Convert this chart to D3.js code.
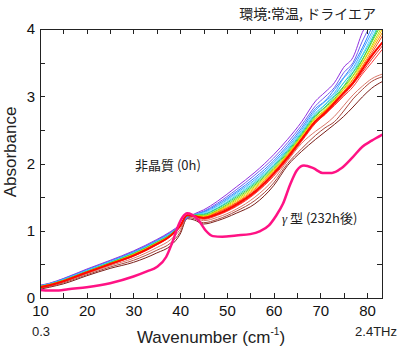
<!DOCTYPE html>
<html lang="ja">
<head>
  <meta charset="UTF-8">
  <title>Absorbance</title>
  <script src="https://cdn.jsdelivr.net/npm/d3@7"></script>
  <style>
    body { margin: 0; background: #fff; }
    svg { display: block; }
    .axis path { display: none; }
    .axis line { stroke: #222; shape-rendering: crispEdges; }
    .axis text {
      font-family: "Liberation Sans", Arial, sans-serif;
      font-size: 15px;
      fill: #111;
    }
    .lbl { font-family: "Liberation Sans", Arial, "Noto Sans CJK JP", sans-serif; fill: #222; }
    .jp { font-family: "Noto Sans CJK JP", "Liberation Sans", sans-serif; fill: #222; }
  </style>
</head>
<body>
<svg width="400" height="350"></svg>
<script>
// 波数 (cm-1)
const wn = [10, 12, 15, 20, 25, 30, 35, 38, 40, 41.5, 43, 45, 48, 52, 56, 60, 63, 66, 69, 71, 73, 75, 77, 79, 81, 83.3];

// 非晶質 → 時間経過 (虹色の順)
const purple    = [0.19, 0.22, 0.29, 0.43, 0.56, 0.70, 0.87, 0.99, 1.09, 1.19, 1.25, 1.31, 1.44, 1.65, 1.87, 2.13, 2.36, 2.62, 2.93, 3.06, 3.20, 3.43, 3.58, 3.95, 4.20, 4.60];
const violet    = [0.185, 0.215, 0.285, 0.42, 0.55, 0.69, 0.86, 0.98, 1.08, 1.19, 1.24, 1.29, 1.41, 1.61, 1.83, 2.08, 2.31, 2.57, 2.86, 2.99, 3.13, 3.35, 3.50, 3.82, 4.10, 4.45];
const blue      = [0.18, 0.21, 0.28, 0.415, 0.545, 0.68, 0.85, 0.97, 1.08, 1.20, 1.24, 1.28, 1.39, 1.58, 1.79, 2.04, 2.27, 2.53, 2.82, 2.93, 3.10, 3.28, 3.47, 3.72, 4.02, 4.35];
const sky       = [0.18, 0.21, 0.275, 0.41, 0.54, 0.675, 0.845, 0.965, 1.08, 1.21, 1.24, 1.27, 1.37, 1.56, 1.76, 2.01, 2.24, 2.50, 2.79, 2.92, 3.05, 3.27, 3.42, 3.68, 3.95, 4.30];
const lightCyan = [0.175, 0.205, 0.27, 0.405, 0.535, 0.67, 0.84, 0.96, 1.08, 1.22, 1.24, 1.26, 1.36, 1.54, 1.74, 1.99, 2.22, 2.48, 2.76, 2.88, 3.04, 3.20, 3.40, 3.62, 3.90, 4.25];
const cyan      = [0.175, 0.205, 0.27, 0.40, 0.53, 0.665, 0.835, 0.955, 1.08, 1.22, 1.24, 1.25, 1.34, 1.52, 1.72, 1.97, 2.20, 2.46, 2.74, 2.87, 3.01, 3.20, 3.36, 3.60, 3.85, 4.20];
const teal      = [0.17, 0.20, 0.265, 0.395, 0.525, 0.66, 0.83, 0.95, 1.08, 1.22, 1.23, 1.24, 1.33, 1.50, 1.70, 1.95, 2.18, 2.44, 2.72, 2.84, 2.99, 3.15, 3.35, 3.55, 3.82, 4.15];
const green     = [0.17, 0.20, 0.26, 0.39, 0.52, 0.655, 0.825, 0.945, 1.08, 1.22, 1.23, 1.23, 1.31, 1.48, 1.68, 1.93, 2.16, 2.42, 2.70, 2.83, 2.96, 3.14, 3.31, 3.54, 3.80, 4.10];
const yellowGrn = [0.17, 0.20, 0.26, 0.39, 0.515, 0.65, 0.82, 0.94, 1.08, 1.23, 1.23, 1.22, 1.30, 1.46, 1.66, 1.91, 2.14, 2.41, 2.68, 2.80, 2.95, 3.11, 3.30, 3.50, 3.75, 4.05];
const yellow    = [0.165, 0.195, 0.255, 0.385, 0.51, 0.645, 0.815, 0.935, 1.08, 1.23, 1.22, 1.21, 1.29, 1.44, 1.64, 1.90, 2.13, 2.40, 2.67, 2.79, 2.93, 3.10, 3.26, 3.49, 3.72, 4.00];
const orange    = [0.165, 0.195, 0.255, 0.385, 0.51, 0.64, 0.81, 0.935, 1.07, 1.23, 1.22, 1.20, 1.28, 1.42, 1.62, 1.88, 2.12, 2.38, 2.65, 2.78, 2.92, 3.07, 3.25, 3.45, 3.68, 3.95];
const redOrange = [0.16, 0.19, 0.25, 0.38, 0.505, 0.635, 0.805, 0.93, 1.07, 1.23, 1.22, 1.20, 1.27, 1.41, 1.60, 1.86, 2.10, 2.37, 2.64, 2.77, 2.90, 3.06, 3.22, 3.43, 3.64, 3.90];
const redA      = [0.155, 0.185, 0.245, 0.375, 0.50, 0.625, 0.795, 0.925, 1.07, 1.23, 1.22, 1.18, 1.24, 1.37, 1.56, 1.83, 2.07, 2.35, 2.61, 2.73, 2.88, 3.02, 3.18, 3.36, 3.55, 3.75];
const redB      = [0.155, 0.185, 0.245, 0.37, 0.495, 0.62, 0.79, 0.92, 1.06, 1.23, 1.21, 1.17, 1.23, 1.36, 1.55, 1.81, 2.06, 2.33, 2.60, 2.73, 2.86, 3.00, 3.14, 3.33, 3.50, 3.70];
const red       = [0.16, 0.19, 0.25, 0.38, 0.505, 0.63, 0.80, 0.93, 1.07, 1.23, 1.22, 1.19, 1.25, 1.39, 1.58, 1.85, 2.09, 2.36, 2.63, 2.75, 2.90, 3.05, 3.20, 3.40, 3.60, 3.80];
const salmon    = [0.15, 0.18, 0.235, 0.36, 0.48, 0.59, 0.75, 0.87, 1.02, 1.21, 1.20, 1.15, 1.20, 1.32, 1.50, 1.76, 2.04, 2.30, 2.48, 2.58, 2.70, 2.86, 3.02, 3.15, 3.26, 3.33];
const brown     = [0.14, 0.17, 0.225, 0.345, 0.46, 0.56, 0.71, 0.82, 0.98, 1.20, 1.18, 1.12, 1.17, 1.29, 1.45, 1.71, 2.00, 2.22, 2.42, 2.53, 2.62, 2.78, 2.96, 3.10, 3.22, 3.29];
const darkBrown = [0.13, 0.16, 0.21, 0.33, 0.44, 0.53, 0.67, 0.78, 0.95, 1.18, 1.16, 1.10, 1.15, 1.26, 1.40, 1.67, 1.97, 2.18, 2.36, 2.47, 2.58, 2.70, 2.84, 2.99, 3.12, 3.22];

// γ型 (232h後)
const gammaWn = [10, 12, 14, 16, 20, 25, 30, 33, 35, 37, 38.5, 39.5, 40.5, 41.5, 42.5, 44, 45.5, 47, 49, 52, 55, 57, 59, 60.5, 62, 63.5, 65, 66.5, 68.5, 70.5, 72.5, 74.5, 77, 79, 81, 83.3];
const gammaAbs = [0.12, 0.11, 0.11, 0.13, 0.16, 0.22, 0.32, 0.40, 0.46, 0.61, 0.86, 1.06, 1.20, 1.26, 1.24, 1.15, 1.00, 0.92, 0.91, 0.93, 0.95, 0.99, 1.08, 1.22, 1.40, 1.68, 1.90, 1.97, 1.93, 1.86, 1.86, 1.93, 2.10, 2.25, 2.34, 2.43];

const xTicks = [10, 15, 20, 25, 30, 35, 40, 45, 50, 55, 60, 65, 70, 75, 80];
const yTicks = [0, 0.5, 1, 1.5, 2, 2.5, 3, 3.5, 4];

const series = [
  { y: darkBrown, color: "#7a1f1a", w: 1 },
  { y: brown,     color: "#a8463c", w: 1 },
  { y: salmon,    color: "#d9786a", w: 1 },
  { y: purple,    color: "#9030e0", w: 1 },
  { y: violet,    color: "#7060f0", w: 1 },
  { y: blue,      color: "#3080ff", w: 1 },
  { y: sky,       color: "#40a8ff", w: 1 },
  { y: lightCyan, color: "#70d8ff", w: 1 },
  { y: cyan,      color: "#20d0d0", w: 1 },
  { y: teal,      color: "#30cc70", w: 1 },
  { y: green,     color: "#60d820", w: 1 },
  { y: yellowGrn, color: "#b8e000", w: 1 },
  { y: yellow,    color: "#ffc800", w: 1 },
  { y: orange,    color: "#ff8c00", w: 1 },
  { y: redOrange, color: "#ff4a10", w: 1 },
  { y: redA,      color: "#f02828", w: 1 },
  { y: redB,      color: "#ff3838", w: 1 },
  { y: red,       color: "#ff0a00", w: 2 }
];

const svg = d3.select("svg");
const pLeft = 40, pRight = 382, pTop = 29, pBottom = 298;

const x = d3.scaleLinear().domain([10, 83.2]).range([pLeft, pRight]);
const y = d3.scaleLinear().domain([0, 4]).range([pBottom, pTop]);

svg.append("clipPath").attr("id", "plotclip")
  .append("rect")
  .attr("x", pLeft).attr("y", pTop)
  .attr("width", pRight - pLeft).attr("height", pBottom - pTop);

const plot = svg.append("g").attr("clip-path", "url(#plotclip)");

const line = d3.line()
  .x(d => x(d[0]))
  .y(d => y(d[1]))
  .curve(d3.curveMonotoneX);

series.forEach(s => {
  plot.append("path")
    .attr("d", line(wn.map((v, i) => [v, s.y[i]])))
    .attr("fill", "none")
    .attr("stroke", s.color)
    .attr("stroke-width", s.w);
});

plot.append("path")
  .attr("d", line(gammaWn.map((v, i) => [v, gammaAbs[i]])))
  .attr("fill", "none")
  .attr("stroke", "#ff1284")
  .attr("stroke-width", 2.5);

// 軸 (目盛りは内向き)
svg.append("g").attr("class", "axis")
  .attr("transform", `translate(0,${pBottom})`)
  .call(d3.axisBottom(x).tickValues(xTicks).tickSize(-5).tickPadding(7)
    .tickFormat(d => d % 10 === 0 ? d : ""));

svg.append("g").attr("class", "axis")
  .attr("transform", `translate(0,${pTop})`)
  .call(d3.axisTop(x).tickValues(xTicks).tickSize(-5).tickFormat(""));

svg.append("g").attr("class", "axis")
  .attr("transform", `translate(${pLeft},0)`)
  .call(d3.axisLeft(y).tickValues(yTicks).tickSize(-5).tickPadding(5)
    .tickFormat(d => Number.isInteger(d) ? d : ""));

svg.append("g").attr("class", "axis")
  .attr("transform", `translate(${pRight},0)`)
  .call(d3.axisRight(y).tickValues(yTicks).tickSize(-5).tickFormat(""));

svg.append("rect")
  .attr("x", pLeft).attr("y", pTop)
  .attr("width", pRight - pLeft).attr("height", pBottom - pTop)
  .attr("fill", "none").attr("stroke", "#222").attr("stroke-width", 1)
  .attr("shape-rendering", "crispEdges");

// 軸ラベル
svg.append("text").attr("class", "lbl")
  .attr("transform", "translate(16,152) rotate(-90)")
  .attr("text-anchor", "middle")
  .attr("font-size", 17)
  .text("Absorbance");

const xl = svg.append("text").attr("class", "lbl")
  .attr("x", (pLeft + pRight) / 2).attr("y", 343)
  .attr("text-anchor", "middle")
  .attr("font-size", 17);
xl.append("tspan").text("Wavenumber (cm");
xl.append("tspan").attr("font-size", 10).attr("dy", -8).text("-1");
xl.append("tspan").attr("dy", 8).text(")");

svg.append("text").attr("class", "lbl")
  .attr("x", 41).attr("y", 336).attr("text-anchor", "middle")
  .attr("font-size", 13).attr("fill", "#333").text("0.3");
svg.append("text").attr("class", "lbl")
  .attr("x", 397).attr("y", 336).attr("text-anchor", "end")
  .attr("font-size", 13).attr("fill", "#333").text("2.4THz");

// 注記
svg.append("text").attr("class", "jp")
  .attr("x", 376).attr("y", 19).attr("text-anchor", "end")
  .attr("font-size", 14).text("環境:常温, ドライエア");

svg.append("text").attr("class", "jp")
  .attr("x", 135).attr("y", 170)
  .attr("font-size", 13).text("非晶質 (0h)");

const g = svg.append("text").attr("class", "jp")
  .attr("x", 282).attr("y", 223)
  .attr("font-size", 13);
g.append("tspan").attr("font-style", "italic").attr("font-family", "Liberation Serif, serif").text("γ");
g.append("tspan").text(" 型 (232h後)");
</script>
</body>
</html>
